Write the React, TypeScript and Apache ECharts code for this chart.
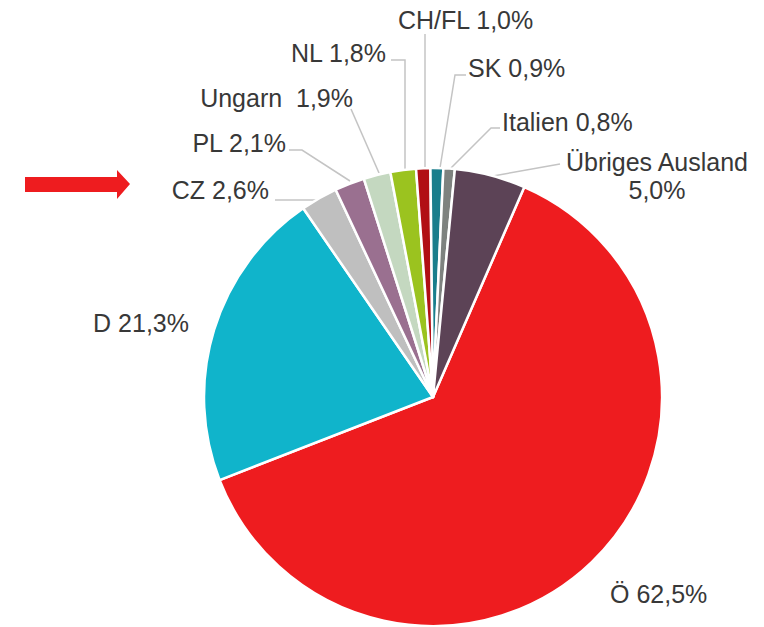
import React, { useEffect, useRef } from "react";
import * as echarts from "echarts";

// Data (clockwise from the Ö slice)
const categories = ["Ö", "D", "CZ", "PL", "Ungarn", "NL", "CH/FL", "SK", "Italien", "Übriges Ausland"];
const shares = [62.5, 21.3, 2.6, 2.1, 1.9, 1.8, 1.0, 0.9, 0.8, 5.0];
const separators = [" ", " ", " ", " ", "  ", " ", " ", " ", " ", "\n"];

// Styles
const colors = ["#ee1c1f", "#10b4cb", "#bfbfbf", "#9a7090", "#c4d8c0", "#9bc31f", "#b10f14", "#1a7e8c", "#7e827f", "#5c4356"];

// Label placement (pixels in the 764x627 canvas)
type LP = { x: number; y: number; align: string; line: number[][] | null };
const labelPlacement: LP[] = [
  { x: 610, y: 594, align: "left", line: null },
  { x: 189, y: 323, align: "right", line: null },
  { x: 269, y: 190, align: "right", line: [[317, 200], [275, 200]] },
  { x: 286, y: 143, align: "right", line: [[350, 181], [302, 150], [289, 150]] },
  { x: 353, y: 98, align: "right", line: [[379, 173], [351, 109]] },
  { x: 386, y: 53, align: "right", line: [[405, 170], [405, 60], [391, 60]] },
  { x: 398, y: 20, align: "left", line: [[425, 168], [425, 34]] },
  { x: 468, y: 68, align: "left", line: [[440, 168], [455, 75], [466, 75]] },
  { x: 502, y: 122, align: "left", line: [[451, 168], [491, 128], [500, 128]] },
  { x: 657, y: 176, align: "center", line: [[493, 176], [560, 164]] },
];

const fmt = (v: number) => v.toFixed(1).replace(".", ",") + "%";

export default function App() {
  const ref = useRef<HTMLDivElement>(null);
  useEffect(() => {
    if (!ref.current) return;
    const chart = echarts.init(ref.current, null, { renderer: "svg" });
    const data = categories.map((name, i) => ({
      name,
      value: shares[i],
      itemStyle: { color: colors[i] },
      labelLine: { show: labelPlacement[i].line !== null },
    }));
    chart.setOption({
      animation: false,
      backgroundColor: "#ffffff",
      graphic: [
        {
          type: "polygon",
          shape: {
            points: [
              [25, 177], [117, 177], [117, 170], [130, 184], [117, 199], [117, 192], [25, 192],
            ],
          },
          style: { fill: "#ee1c1f" },
        },
      ],
      series: [
        {
          type: "pie",
          center: [433, 397],
          radius: 229,
          startAngle: 66.5,
          clockwise: true,
          avoidLabelOverlap: false,
          data,
          itemStyle: { borderColor: "#ffffff", borderWidth: 2.5 },
          emphasis: { disabled: true },
          label: {
            show: true,
            position: "outside",
            fontFamily: "'Liberation Sans', Arial, sans-serif",
            fontSize: 25,
            color: "#383838",
            lineHeight: 28,
            formatter: (p: any) => `${p.name}${separators[p.dataIndex]}${fmt(p.value)}`,
          },
          labelLine: {
            show: true,
            lineStyle: { color: "#c4c4c4", width: 1.5 },
          },
          labelLayout: (params: any) => {
            const l = labelPlacement[params.dataIndex];
            const o: any = { x: l.x, y: l.y, align: l.align, verticalAlign: "middle" };
            if (l.line) o.labelLinePoints = l.line;
            return o;
          },
        },
      ],
    });
    return () => chart.dispose();
  }, []);
  return (
    <div
      ref={ref}
      style={{ position: "absolute", left: 0, top: 0, width: 764, height: 627 }}
    />
  );
}
